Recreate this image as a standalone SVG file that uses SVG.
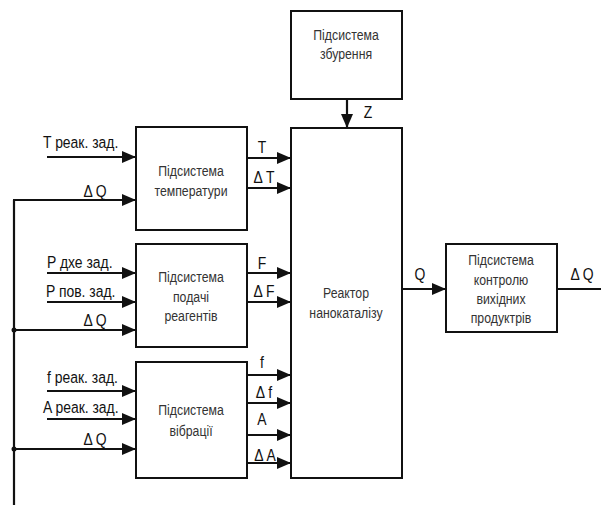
<svg xmlns="http://www.w3.org/2000/svg" width="601" height="505" viewBox="0 0 601 505">
<style>
.box{fill:#fff;stroke:#111;stroke-width:2}
.ln{stroke:#111;stroke-width:2.2;fill:none}
.ar{marker-end:url(#ah)}
.bt{font-family:"Liberation Sans",Arial,sans-serif;font-size:15px;fill:#333;text-anchor:middle}
.lb{font-family:"Liberation Sans",Arial,sans-serif;font-size:17px;fill:#111}
.mid{text-anchor:middle}
</style>
<defs>
<marker id="ah" markerUnits="userSpaceOnUse" markerWidth="14" markerHeight="12" refX="14" refY="6" orient="auto">
<path d="M0,0 L14,6 L0,12 z" fill="#111"/>
</marker>
</defs>
<rect width="601" height="505" fill="#fff"/>
<g id="connectors">
<line class="ln" x1="14" y1="200" x2="14" y2="505"/>
<circle cx="14" cy="330" r="2.5" fill="#111"/>
<circle cx="14" cy="449" r="2.5" fill="#111"/>
<line class="ln ar" x1="47" y1="157" x2="136" y2="157"/>
<line class="ln ar" x1="13" y1="200" x2="136" y2="200"/>
<line class="ln ar" x1="247" y1="158" x2="291" y2="158"/>
<line class="ln ar" x1="247" y1="188" x2="291" y2="188"/>
<line class="ln ar" x1="47" y1="273" x2="136" y2="273"/>
<line class="ln ar" x1="47" y1="302" x2="136" y2="302"/>
<line class="ln ar" x1="14" y1="330" x2="136" y2="330"/>
<line class="ln ar" x1="247" y1="273" x2="291" y2="273"/>
<line class="ln ar" x1="247" y1="302" x2="291" y2="302"/>
<line class="ln ar" x1="47" y1="391" x2="136" y2="391"/>
<line class="ln ar" x1="47" y1="419" x2="136" y2="419"/>
<line class="ln ar" x1="14" y1="449" x2="136" y2="449"/>
<line class="ln ar" x1="247" y1="375" x2="291" y2="375"/>
<line class="ln ar" x1="247" y1="403" x2="291" y2="403"/>
<line class="ln ar" x1="247" y1="435" x2="291" y2="435"/>
<line class="ln ar" x1="247" y1="463" x2="291" y2="463"/>
<line class="ln ar" x1="347" y1="99" x2="347" y2="128"/>
<line class="ln ar" x1="402" y1="289" x2="446" y2="289"/>
<line class="ln" x1="557" y1="289" x2="601" y2="289"/>
<text class="lb" transform="matrix(0.82 0 0 1 43 0)" x="0" y="148">T реак. зад.</text>
<text class="lb mid" transform="matrix(0.82 0 0 1 95 0)" x="0" y="197">Δ Q</text>
<text class="lb mid" transform="matrix(0.82 0 0 1 262 0)" x="0" y="153">T</text>
<text class="lb mid" transform="matrix(0.82 0 0 1 264 0)" x="0" y="183">Δ T</text>
<text class="lb" transform="matrix(0.82 0 0 1 47 0)" x="0" y="268">P дхе зад.</text>
<text class="lb" transform="matrix(0.82 0 0 1 46 0)" x="0" y="297">P пов. зад.</text>
<text class="lb mid" transform="matrix(0.82 0 0 1 95 0)" x="0" y="326">Δ Q</text>
<text class="lb mid" transform="matrix(0.82 0 0 1 262 0)" x="0" y="269">F</text>
<text class="lb mid" transform="matrix(0.82 0 0 1 264 0)" x="0" y="297">Δ F</text>
<text class="lb" transform="matrix(0.82 0 0 1 47 0)" x="0" y="383">f реак. зад.</text>
<text class="lb" transform="matrix(0.82 0 0 1 43 0)" x="0" y="413">A реак. зад.</text>
<text class="lb mid" transform="matrix(0.82 0 0 1 95 0)" x="0" y="445">Δ Q</text>
<text class="lb mid" transform="matrix(0.82 0 0 1 262 0)" x="0" y="368">f</text>
<text class="lb mid" transform="matrix(0.82 0 0 1 264 0)" x="0" y="398">Δ f</text>
<text class="lb mid" transform="matrix(0.82 0 0 1 262 0)" x="0" y="425">A</text>
<text class="lb mid" transform="matrix(0.82 0 0 1 265 0)" x="0" y="461">Δ A</text>
<text class="lb mid" transform="matrix(0.82 0 0 1 368 0)" x="0" y="118">Z</text>
<text class="lb mid" transform="matrix(0.82 0 0 1 420 0)" x="0" y="280">Q</text>
<text class="lb mid" transform="matrix(0.82 0 0 1 582 0)" x="0" y="280">Δ Q</text>
</g>
<g id="perturbation">
<rect class="box" x="291" y="11" width="111" height="88"/>
<text class="bt" transform="matrix(0.82 0 0 1 346 0)" x="0" y="40">Підсистема</text>
<text class="bt" transform="matrix(0.82 0 0 1 346 0)" x="0" y="59">збурення</text>
</g>
<g id="temperature">
<rect class="box" x="136" y="127" width="111" height="103"/>
<text class="bt" transform="matrix(0.82 0 0 1 191 0)" x="0" y="176">Підсистема</text>
<text class="bt" transform="matrix(0.82 0 0 1 191 0)" x="0" y="196">температури</text>
</g>
<g id="feed">
<rect class="box" x="136" y="244" width="111" height="103"/>
<text class="bt" transform="matrix(0.82 0 0 1 191 0)" x="0" y="282">Підсистема</text>
<text class="bt" transform="matrix(0.82 0 0 1 191 0)" x="0" y="302">подачі</text>
<text class="bt" transform="matrix(0.82 0 0 1 191 0)" x="0" y="321">реагентів</text>
</g>
<g id="vibration">
<rect class="box" x="136" y="362" width="111" height="116"/>
<text class="bt" transform="matrix(0.82 0 0 1 191 0)" x="0" y="415">Підсистема</text>
<text class="bt" transform="matrix(0.82 0 0 1 191 0)" x="0" y="436">вібрації</text>
</g>
<g id="reactor">
<rect class="box" x="291" y="128" width="111" height="350"/>
<text class="bt" transform="matrix(0.82 0 0 1 346 0)" x="0" y="298">Реактор</text>
<text class="bt" transform="matrix(0.82 0 0 1 346 0)" x="0" y="318">нанокаталізу</text>
</g>
<g id="control">
<rect class="box" x="446" y="244" width="111" height="88"/>
<text class="bt" transform="matrix(0.82 0 0 1 501 0)" x="0" y="265">Підсистема</text>
<text class="bt" transform="matrix(0.82 0 0 1 501 0)" x="0" y="285">контролю</text>
<text class="bt" transform="matrix(0.82 0 0 1 501 0)" x="0" y="304">вихідних</text>
<text class="bt" transform="matrix(0.82 0 0 1 501 0)" x="0" y="323">продуктрів</text>
</g>
</svg>
